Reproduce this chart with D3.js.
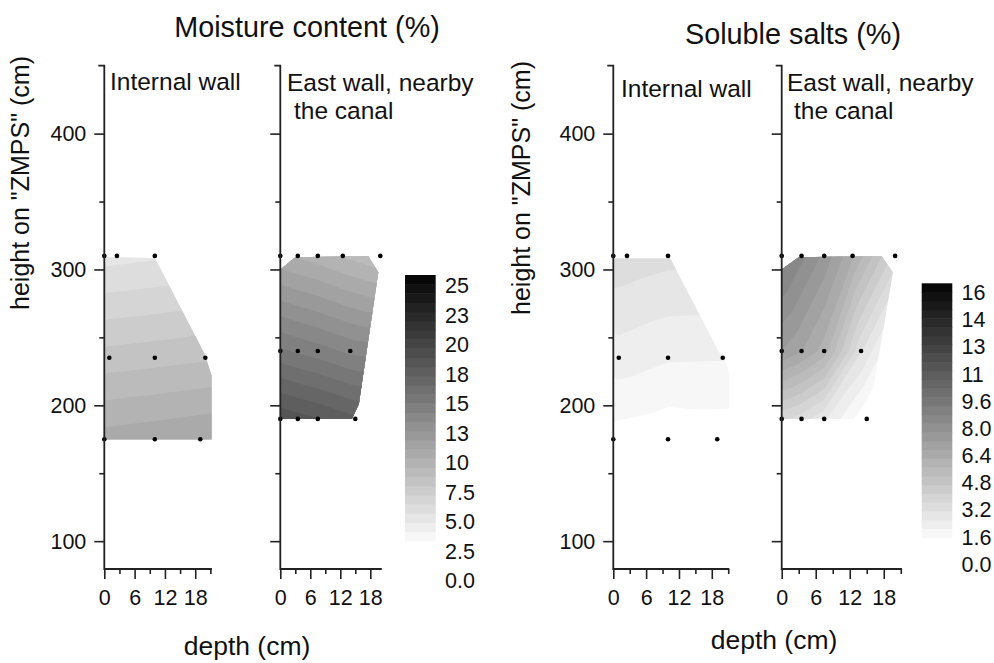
<!DOCTYPE html>
<html><head><meta charset="utf-8">
<script src="https://cdnjs.cloudflare.com/ajax/libs/d3/7.8.5/d3.min.js"></script>
<style>
body{margin:0;background:#fff}
text{font-family:"Liberation Sans",Arial,sans-serif;fill:#111}
</style>
</head><body>
<svg id="c" width="994" height="663"></svg>
<script>
// ---------------- DATA ----------------
const heightsInternal = [310, 235, 175];
const depthsInternal  = [[0, 2.5, 10], [1, 10, 20], [0, 10, 19]];
const moistureInternal = [[3.0, 3.05, 3.2], [6.2, 6.35, 6.55], [8.7, 8.9, 9.1]];
const saltsInternal    = [[2.5, 2.45, 2.3], [1.35, 1.12, 1.1], [0.3, 0.15, 0.2]];

const heightsEast = [310, 240, 190];
const depthsEast  = [[0, 3.5, 7.5, 12.5, 20], [0, 3.5, 7.5, 14], [0, 3.5, 7.5, 15]];
const moistureEast = [[8.5, 8.2, 7.9, 7.4, 6.8], [13.5, 13.2, 12.9, 12.3], [17.3, 17.0, 16.7, 16.0]];
const saltsEast    = [[8.3, 7.6, 6.8, 5.4, 3.0], [6.4, 5.9, 5.1, 2.2], [2.8, 2.4, 1.7, 0.0]];

// contoured area outline (depth cm, height cm)
const boundaryInternalMoist = [[0,309],[10,308.5],[19.8,238],[21.2,222],[21.2,175],[0,175]];
const boundaryInternalSalt  = [[0,308],[10.4,308],[19.2,240],[20.7,231],[21.2,221],[21.2,175],[0,175]];
const boundaryEast = [[0,300],[3,309],[17.6,310],[19.6,298],[15.7,201],[14.3,190],[0,190]];

const yMajorTicks = [100, 200, 300, 400];
const yMinorTicks = [150, 250, 350];
const xMajorTicks = [0, 6, 12, 18];
const xMinorTicks = [3, 9, 15, 21];

const moistureMax = 25;
const saltsMax = 16;
const moistureTickLabels = ["0.0","2.5","5.0","7.5","10","13","15","18","20","23","25"];
const saltsTickLabels    = ["0.0","1.6","3.2","4.8","6.4","8.0","9.6","11","13","14","16"];
const nLevels = 30;

const titles = ["Moisture content (%)", "Soluble salts (%)"];
const yTitle = "height on \"ZMPS\" (cm)";
const xTitle = "depth (cm)";

// ---------------- DRAW ----------------
const svg = d3.select("#c");
const y = d3.scaleLinear().domain([79.5, 450]).range([569, 65.7]);
const AX = "#222";
const bandColor = i => { const g = Math.round(255 * (1 - i / nLevels)); return `rgb(${g},${g},${g})`; };

const panels = [
  {r:[104.3,211.9], dmax:21.3, H:heightsInternal, D:depthsInternal, V:moistureInternal, B:boundaryInternalMoist, max:moistureMax, yLab:true,
   sub:[["Internal wall",110,90]]},
  {r:[280.3,381.8], dmax:20.3, H:heightsEast, D:depthsEast, V:moistureEast, B:boundaryEast, max:moistureMax, yLab:false,
   sub:[["East wall, nearby",287,90.5],["the canal",294,118.5]]},
  {r:[613.3,729.3], dmax:21.2, H:heightsInternal, D:depthsInternal, V:saltsInternal, B:boundaryInternalSalt, max:saltsMax, yLab:true,
   sub:[["Internal wall",621,96.5]]},
  {r:[781.7,901.9], dmax:21.2, H:heightsEast, D:depthsEast, V:saltsEast, B:boundaryEast, max:saltsMax, yLab:false,
   sub:[["East wall, nearby",787,90.5],["the canal",794,118.5]]}
];

panels.forEach((p, pi) => {
  const xs = d3.scaleLinear().domain([0, p.dmax]).range(p.r);
  const g = svg.append("g");

  const pts = [];
  p.H.forEach((h, r) => p.D[r].forEach((d, c) => pts.push([xs(d), y(h), p.V[r][c]])));
  const del = d3.Delaunay.from(pts, q => q[0], q => q[1]);
  const tris = [];
  for (let t = 0; t < del.triangles.length; t += 3) {
    const a = pts[del.triangles[t]], b = pts[del.triangles[t+1]], c = pts[del.triangles[t+2]];
    const det = (b[1]-c[1])*(a[0]-c[0]) + (c[0]-b[0])*(a[1]-c[1]);
    if (Math.abs(det) < 1) continue;
    tris.push({a, b, c, det});
  }
  function f(px, py) {
    let best = null, bestMin = -Infinity, bl = null;
    for (const T of tris) {
      const {a, b, c, det} = T;
      const l1 = ((b[1]-c[1])*(px-c[0]) + (c[0]-b[0])*(py-c[1])) / det;
      const l2 = ((c[1]-a[1])*(px-c[0]) + (a[0]-c[0])*(py-c[1])) / det;
      const l3 = 1 - l1 - l2;
      const m = Math.min(l1, l2, l3);
      if (m > bestMin) { bestMin = m; best = T; bl = [l1, l2, l3]; }
      if (m >= 0) break;
    }
    return bl[0]*best.a[2] + bl[1]*best.b[2] + bl[2]*best.c[2];
  }

  const poly = p.B.map(([d, h]) => [xs(d), y(h)]);
  const gx0 = Math.floor(d3.min(poly, q => q[0])) - 2;
  const gy0 = Math.floor(d3.min(poly, q => q[1])) - 2;
  const nx = Math.ceil(d3.max(poly, q => q[0])) + 2 - gx0;
  const ny = Math.ceil(d3.max(poly, q => q[1])) + 2 - gy0;
  const grid = new Array(nx * ny);
  for (let j = 0; j < ny; j++) for (let i = 0; i < nx; i++) grid[i + j*nx] = f(gx0 + i + 0.5, gy0 + j + 0.5);

  const step = p.max / nLevels;
  const thr = d3.range(nLevels).map(i => i * step);
  const cont = d3.contours().size([nx, ny]).thresholds(thr)(grid);

  const cid = "clip" + pi;
  svg.append("clipPath").attr("id", cid).append("polygon").attr("points", poly.map(q => q.join(",")).join(" "));
  const cg = g.append("g").attr("clip-path", `url(#${cid})`)
    .append("g").attr("transform", `translate(${gx0},${gy0})`);
  cont.forEach((cc, i) => {
    cg.append("path").attr("d", d3.geoPath()(cc)).attr("fill", bandColor(i)).attr("stroke", "none");
  });

  g.append("g").selectAll("circle").data(pts).join("circle")
    .attr("cx", q => q[0]).attr("cy", q => q[1]).attr("r", 2.3).attr("fill", "#000");

  const x0 = xs(0);
  const ya = d3.axisLeft(y).tickValues(yMajorTicks).tickSize(10).tickPadding(8).tickSizeOuter(0);
  if (!p.yLab) ya.tickFormat("");
  const gy = g.append("g").attr("transform", `translate(${x0},0)`).call(ya)
    .attr("font-size", 21.5).attr("font-family", "Liberation Sans, Arial, sans-serif");
  gy.select(".domain").remove();
  gy.selectAll("line").attr("stroke", AX).attr("stroke-width", 1.6);
  gy.selectAll("text").attr("fill", "#111");
  const gym = g.append("g").attr("transform", `translate(${x0},0)`)
    .call(d3.axisLeft(y).tickValues(yMinorTicks).tickSize(5).tickFormat(""));
  gym.select(".domain").remove();
  gym.selectAll("line").attr("stroke", AX).attr("stroke-width", 1.6);

  const xa = d3.axisBottom(xs).tickValues(xMajorTicks).tickSize(10).tickPadding(11).tickSizeOuter(0);
  const gxa = g.append("g").attr("transform", `translate(0,${y(79.5)})`).call(xa)
    .attr("font-size", 21.5).attr("font-family", "Liberation Sans, Arial, sans-serif");
  gxa.select(".domain").remove();
  gxa.selectAll("line").attr("stroke", AX).attr("stroke-width", 1.6);
  gxa.selectAll("text").attr("fill", "#111");
  const gxm = g.append("g").attr("transform", `translate(0,${y(79.5)})`)
    .call(d3.axisBottom(xs).tickValues(xMinorTicks.filter(v => v <= p.dmax + 0.01)).tickSize(5).tickFormat(""));
  gxm.select(".domain").remove();
  gxm.selectAll("line").attr("stroke", AX).attr("stroke-width", 1.6);

  g.append("path")
    .attr("d", `M${x0-6},${y(450)}H${x0}V${y(79.5)}H${xs(p.dmax)}`)
    .attr("fill", "none").attr("stroke", AX).attr("stroke-width", 1.8);

  p.sub.forEach(([t, tx, ty]) => g.append("text").attr("x", tx).attr("y", ty).attr("font-size", 24.5).text(t));
});

const bars = [
  {x:405, w:30.7, top:275, bottom:550, l0:580.7, lMax:285.8, lx:445, max:moistureMax, labels:moistureTickLabels},
  {x:921.7, w:30.6, top:283.3, bottom:546, l0:564.2, lMax:292.5, lx:961.5, max:saltsMax, labels:saltsTickLabels}
];
bars.forEach(b => {
  const bs = d3.scaleLinear().domain([0, nLevels]).range([b.bottom, b.top]);
  const gb = svg.append("g");
  gb.selectAll("rect").data(d3.range(nLevels)).join("rect")
    .attr("x", b.x).attr("width", b.w)
    .attr("y", i => bs(i + 1)).attr("height", i => bs(i) - bs(i + 1) + 0.5)
    .attr("fill", i => bandColor(i));
  const ls = d3.scaleLinear().domain([0, b.max]).range([b.l0, b.lMax]);
  gb.selectAll("text").data(b.labels).join("text")
    .attr("x", b.lx).attr("y", (t, i) => ls(i * b.max / 10)).attr("dy", "0.35em")
    .attr("font-size", 21.5).text(t => t);
});

svg.append("text").attr("x", 307).attr("y", 37).attr("text-anchor", "middle").attr("font-size", 28.8).text(titles[0]);
svg.append("text").attr("x", 793).attr("y", 43.5).attr("text-anchor", "middle").attr("font-size", 28.8).text(titles[1]);

[[29, 183], [530, 188]].forEach(([tx, ty]) => {
  svg.append("text").attr("transform", `translate(${tx},${ty}) rotate(-90)`)
    .attr("text-anchor", "middle").attr("font-size", 25).text(yTitle);
});
svg.append("text").attr("x", 247).attr("y", 655).attr("text-anchor", "middle").attr("font-size", 26.5).text(xTitle);
svg.append("text").attr("x", 774).attr("y", 649).attr("text-anchor", "middle").attr("font-size", 26.5).text(xTitle);
</script>
</body></html>
